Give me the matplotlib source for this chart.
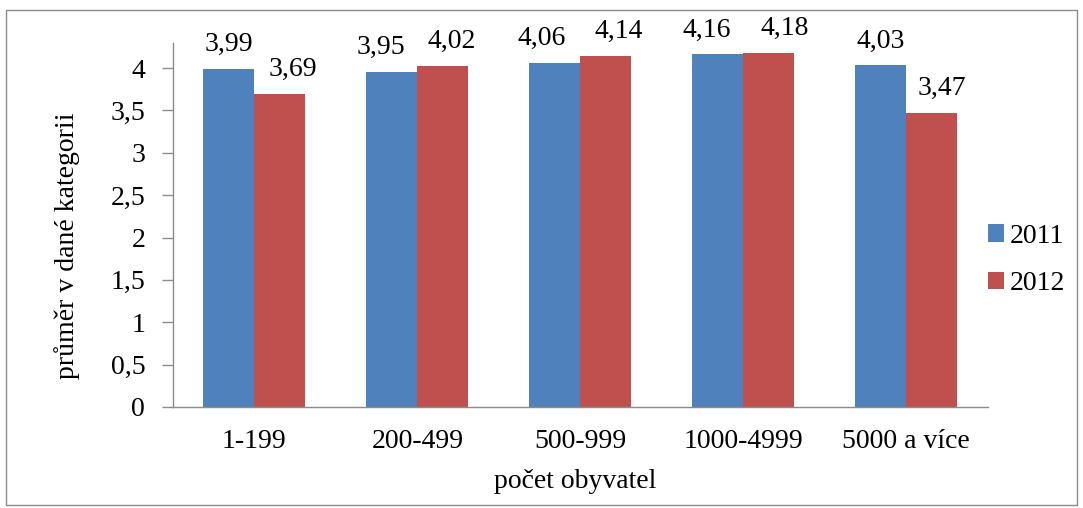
import matplotlib
matplotlib.use("Agg")
import matplotlib.pyplot as plt
import numpy as np
from matplotlib.patches import Rectangle

categories = ["1-199", "200-499", "500-999", "1000-4999", "5000 a více"]
series_names = ["2011", "2012"]
values_2011 = [3.99, 3.95, 4.06, 4.16, 4.03]
values_2012 = [3.69, 4.02, 4.14, 4.18, 3.47]
yticks = [0, 0.5, 1, 1.5, 2, 2.5, 3, 3.5, 4]
ytick_labels = ["0", "0,5", "1", "1,5", "2", "2,5", "3", "3,5", "4"]

# horizontal nudges of value labels (pixels), as placed in the reference
label_dx_2011 = [0, -11, -13, -11, 0]
label_dx_2012 = [13, 9, 13, 16, 10]

plt.rcParams['font.family'] = ['Liberation Serif', 'DejaVu Serif']
FS = 20

fig = plt.figure(figsize=(10.83, 5.08), dpi=100)
fig.patches.append(Rectangle((6/1083, 3/508), 1071/1083, 495/508, transform=fig.transFigure,
                             fill=False, edgecolor='#8c8c8c', linewidth=1.0))
ax = fig.add_axes([173/1083, 101/508, 814.5/1083, 364/508])

x = np.arange(len(categories))
w = 0.313
c1, c2 = '#4F81BD', '#C0504D'
b1 = ax.bar(x - w/2, values_2011, w, color=c1, label=series_names[0])
b2 = ax.bar(x + w/2, values_2012, w, color=c2, label=series_names[1])

def fmt(v):
    return f"{v:.2f}".replace(".", ",")

for bars, vals, dxs in ((b1, values_2011, label_dx_2011), (b2, values_2012, label_dx_2012)):
    for r, v, dx in zip(bars, vals, dxs):
        ax.annotate(fmt(v), (r.get_x() + r.get_width()/2, v), xytext=(dx, 18),
                    textcoords='offset pixels', ha='center', va='baseline',
                    fontsize=FS, annotation_clip=False)

ax.set_xlim(-0.5, len(categories) - 0.5)
ax.set_ylim(0, 4.295)
ax.set_yticks(yticks)
ax.set_yticklabels(ytick_labels, fontsize=FS)
ax.set_xticks(x)
ax.set_xticklabels(categories, fontsize=FS)
ax.tick_params(axis='x', length=0, pad=16)
ax.tick_params(axis='y', length=8, width=1, color='#8c8c8c', pad=12)
for s in ['top', 'right']:
    ax.spines[s].set_visible(False)
for s in ['left', 'bottom']:
    ax.spines[s].set_color('#8c8c8c')
    ax.spines[s].set_linewidth(1)

fig.text(67/1083, 1 - 246/508, "průměr v dané kategorii", rotation=90,
         ha='center', va='center', fontsize=FS)
fig.text(575/1083, 1 - 482/508, "počet obyvatel", ha='center', va='center', fontsize=FS)

leg = fig.legend(handles=[b1, b2], labels=series_names, loc='center left',
                 bbox_to_anchor=(988/1083, 1 - 260/508), frameon=False, borderpad=0,
                 borderaxespad=0,
                 fontsize=FS, handlelength=0.58, handleheight=0.58, handletextpad=0.2,
                 labelspacing=0.8)

fig.savefig("out.png", dpi=100)
